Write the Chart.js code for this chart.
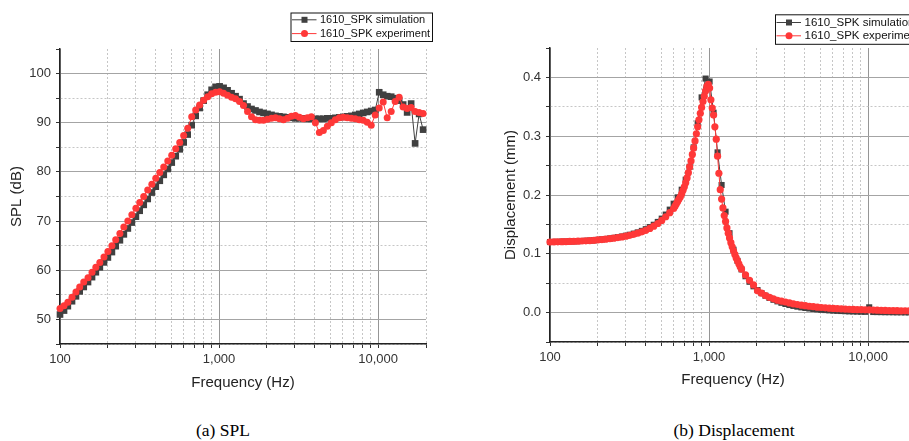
<!DOCTYPE html>
<html>
<head>
<meta charset="utf-8">
<title>1610_SPK SPL and displacement</title>
<script src="https://cdn.jsdelivr.net/npm/chart.js"></script>
<style>
  html, body { margin: 0; padding: 0; background: #fff; }
  body { width: 909px; height: 441px; position: relative; overflow: hidden; }
  #splChart { position: absolute; left: 0; top: 0; }
  #dispChart { position: absolute; left: 460px; top: 0; }
  .caption {
    position: absolute; top: 420px; transform: translateX(-50%); white-space: nowrap;
    font-family: 'Liberation Serif', 'Times New Roman', serif; font-size: 17.5px; color: #000;
  }
</style>
</head>
<body>
<canvas id="splChart" width="450" height="400"></canvas>
<canvas id="dispChart" width="470" height="400"></canvas>
<div class="caption" style="left:223px">(a) SPL</div>
<div class="caption" style="left:734px">(b) Displacement</div>

<script>
// frequency points (Hz), 1/12 octave steps
const freq = [100, 106, 112, 119, 126, 133, 141, 150, 159, 168, 178, 189,
  200, 212, 224, 238, 252, 267, 283, 300, 317, 336, 356, 378,
  400, 424, 449, 476, 504, 534, 566, 599, 635, 673, 713, 755,
  800, 848, 898, 951, 1008, 1068, 1131, 1199, 1270, 1345, 1425, 1510,
  1600, 1695, 1796, 1903, 2016, 2136, 2263, 2397, 2540, 2691, 2851, 3020,
  3200, 3390, 3592, 3805, 4032, 4271, 4525, 4795, 5080, 5382, 5702, 6041,
  6400, 6781, 7184, 7611, 8063, 8543, 9051, 9589, 10159, 10763, 11404, 12082,
  12800, 13561, 14368, 15222, 16127, 17086, 18102, 19179];

// SPL (dB)
const splSim = [51.0, 51.8, 52.7, 53.7, 54.7, 55.7, 56.6, 57.6, 58.6, 59.6, 60.6, 61.6,
  62.6, 63.7, 64.9, 66.1, 67.3, 68.5, 69.7, 70.9, 72.1, 73.3, 74.5, 75.8,
  77.0, 78.2, 79.4, 80.6, 81.9, 83.2, 84.6, 86.0, 87.6, 89.5, 91.4, 93.0,
  94.5, 95.7, 96.7, 97.3, 97.4, 97.1, 96.6, 96.0, 95.4, 94.8, 93.9, 93.3,
  92.8, 92.5, 92.2, 92.0, 91.8, 91.6, 91.4, 91.3, 91.2, 91.1, 91.0, 90.9,
  90.9, 90.9, 90.8, 90.8, 90.8, 90.8, 90.8, 90.9, 90.9, 91.0, 91.1, 91.2,
  91.3, 91.4, 91.6, 91.8, 92.0, 92.2, 92.4, 92.6, 96.2, 95.7, 95.4, 95.3,
  95.0, 94.5, 93.7, 92.1, 93.9, 85.8, 91.8, 88.6];

const splExp = [52.2, 52.8, 53.5, 54.5, 55.6, 56.6, 57.6, 58.5, 59.6, 60.6, 61.6, 62.7,
  63.8, 65.0, 66.2, 67.5, 68.8, 70.0, 71.3, 72.6, 73.8, 75.0, 76.3, 77.5,
  78.7, 79.9, 81.0, 82.2, 83.4, 84.7, 86.0, 87.4, 88.9, 91.2, 92.6, 93.6,
  94.6, 95.3, 95.9, 96.2, 96.3, 96.0, 95.6, 95.2, 94.9, 94.3, 93.5, 92.3,
  91.2, 90.6, 90.5, 90.5, 90.7, 90.9, 91.0, 90.8, 90.6, 90.9, 91.3, 91.5,
  91.1, 90.8, 91.0, 91.2, 90.0, 88.0, 88.4, 89.3, 90.0, 90.6, 91.0, 91.1,
  91.0, 90.9, 90.8, 90.6, 90.5, 90.1, 89.5, 91.6, 93.0, 94.2, 91.0, 92.3,
  94.3, 95.2, 93.2, 92.9, 93.1, 92.3, 92.1, 91.9];

// displacement (mm), simulation on the same frequencies
const dispSim = [0.1200, 0.1202, 0.1204, 0.1206, 0.1208, 0.1210, 0.1212, 0.1215, 0.1218, 0.1221, 0.1225, 0.1229,
  0.1238, 0.1245, 0.1252, 0.1261, 0.1271, 0.1282, 0.1294, 0.1308, 0.1324, 0.1343, 0.1364, 0.1390,
  0.1419, 0.1454, 0.1494, 0.1542, 0.1598, 0.1667, 0.1751, 0.1852, 0.196, 0.209, 0.226, 0.248,
  0.281, 0.322, 0.366, 0.398, 0.393, 0.340, 0.2725, 0.217, 0.1716, 0.135, 0.107, 0.088,
  0.0735, 0.0618, 0.0524, 0.0447, 0.0384, 0.0331, 0.0287, 0.0250, 0.0218, 0.0191, 0.0167, 0.0147,
  0.0129, 0.0114, 0.0101, 0.0089, 0.0079, 0.0070, 0.0062, 0.0055, 0.0048, 0.0043, 0.0038, 0.0034,
  0.0030, 0.0027, 0.0024, 0.0021, 0.0019, 0.0017, 0.0015, 0.0013, 0.0090, 0.0010, 0.0009, 0.0008,
  0.0007, 0.0007, 0.0006, 0.0005, 0.0005, 0.0004, 0.0004, 0.0003];

// experiment is measured more densely around the resonance
const freqDispExp = [100, 106, 112, 119, 126, 133, 141, 150, 159, 168, 178, 189,
  200, 212, 224, 238, 252, 267, 283, 300, 317, 336, 356, 378,
  400, 424, 449, 476, 504, 534, 566, 599,
  611, 623, 635, 647, 660, 673, 686, 699, 713, 727, 741, 755, 770, 785, 800, 816, 832, 848,
  864, 881, 898, 916, 933, 951, 970, 989, 1008, 1027, 1047, 1068, 1088, 1110, 1131, 1153,
  1176, 1199, 1222, 1246, 1270, 1295, 1320, 1345, 1372, 1398, 1425, 1453, 1481, 1510, 1539, 1569, 1600,
  1695, 1796, 1903, 2016, 2136, 2263, 2397, 2540, 2691, 2851, 3020,
  3200, 3390, 3592, 3805, 4032, 4271, 4525, 4795, 5080, 5382, 5702, 6041,
  6400, 6781, 7184, 7611, 8063, 8543, 9051, 9589, 10159, 10763, 11404, 12082,
  12800, 13561, 14368, 15222, 16127, 17086, 18102, 19179];

const dispExp = [0.1200, 0.1202, 0.1204, 0.1206, 0.1208, 0.1210, 0.1212, 0.1215, 0.1218, 0.1221, 0.1225, 0.1230,
  0.1236, 0.1242, 0.1249, 0.1257, 0.1266, 0.1276, 0.1287, 0.1300, 0.1315, 0.1332, 0.1351, 0.1373,
  0.1400, 0.1432, 0.1470, 0.1515, 0.1568, 0.1630, 0.1700, 0.1770,
  0.181, 0.185, 0.189, 0.193, 0.197, 0.202, 0.208, 0.214, 0.221, 0.229, 0.238, 0.248, 0.258, 0.269, 0.280, 0.292, 0.304, 0.316,
  0.328, 0.339, 0.349, 0.359, 0.368, 0.377, 0.385, 0.388, 0.382, 0.362, 0.348, 0.336, 0.316, 0.295, 0.266, 0.237,
  0.209, 0.193, 0.178, 0.165, 0.155, 0.144, 0.135, 0.127, 0.119, 0.112, 0.105, 0.099, 0.093, 0.088, 0.083, 0.078, 0.074,
  0.064, 0.055, 0.047, 0.037, 0.033, 0.029, 0.026, 0.0235, 0.021, 0.0195, 0.018,
  0.0165, 0.0150, 0.0138, 0.0127, 0.0117, 0.0108, 0.0100, 0.0093, 0.0087, 0.0081, 0.0076, 0.0071,
  0.0067, 0.0063, 0.0060, 0.0057, 0.0054, 0.0051, 0.0049, 0.0047, 0.0045, 0.0043, 0.0041, 0.0039,
  0.0037, 0.0035, 0.0034, 0.0032, 0.0031, 0.0030, 0.0029, 0.0028];

// axes: grid positions and labelled ticks
const freqGrid = [100, 200, 300, 400, 500, 600, 700, 800, 900,
  1000, 2000, 3000, 4000, 5000, 6000, 7000, 8000, 9000, 10000, 20000];
const freqTicks = [100, 1000, 10000];
const freqTickLabels = ['100', '1,000', '10,000'];

const splGrid = [45, 50, 55, 60, 65, 70, 75, 80, 85, 90, 95, 100, 105];
const splTicks = [50, 60, 70, 80, 90, 100];
const splTickLabels = ['50', '60', '70', '80', '90', '100'];

const dispGrid = [-0.05, 0, 0.05, 0.1, 0.15, 0.2, 0.25, 0.3, 0.35, 0.4, 0.45];
const dispTicks = [0, 0.1, 0.2, 0.3, 0.4];
const dispTickLabels = ['0.0', '0.1', '0.2', '0.3', '0.4'];

const seriesNames = ['1610_SPK simulation', '1610_SPK experiment'];

const simColor = '#404040';
const expColor = '#ff3838';

Chart.defaults.font.family = "'Liberation Sans', Arial, sans-serif";

function pairs(xs, ys) {
  return xs.map((x, i) => ({ x: x, y: ys[i] }));
}

function near(a, b) {
  return Math.abs(a - b) <= 1e-6 * Math.max(1, Math.abs(b));
}

function labelFor(values, labels, v) {
  const i = values.findIndex(t => near(v, t));
  return i >= 0 ? labels[i] : '';
}

// legend box drawn above the plot, top right
const legendBox = {
  id: 'legendBox',
  afterDraw(chart, args, o) {
    const ctx = chart.ctx;
    ctx.save();
    ctx.fillStyle = '#fff';
    ctx.fillRect(o.x, o.y, o.w, o.h);
    ctx.strokeStyle = '#111';
    ctx.lineWidth = 1;
    ctx.strokeRect(o.x + 0.5, o.y + 0.5, o.w, o.h);
    ctx.font = o.font;
    ctx.textBaseline = 'middle';
    chart.data.datasets.forEach((ds, i) => {
      const y = o.rows[i];
      ctx.strokeStyle = ds.borderColor;
      ctx.lineWidth = 1;
      ctx.beginPath();
      ctx.moveTo(o.x + 1.5, y);
      ctx.lineTo(o.x + 26, y);
      ctx.stroke();
      ctx.fillStyle = ds.borderColor;
      const mx = o.x + 14;
      if (ds.pointStyle === 'rect') {
        ctx.fillRect(mx - 3, y - 3, 6, 6);
      } else {
        ctx.beginPath();
        ctx.arc(mx, y, 3.5, 0, Math.PI * 2);
        ctx.fill();
      }
      ctx.fillStyle = '#111';
      ctx.fillText(ds.label, o.x + 29.5, y + 0.5);
    });
    ctx.restore();
  }
};

function freqAxis(height, titlePad) {
  return {
    type: 'logarithmic',
    min: 100,
    max: 20000,
    afterBuildTicks: s => { s.ticks = freqGrid.map(v => ({ value: v })); },
    afterFit: s => { s.height = height; },
    ticks: {
      autoSkip: false, maxRotation: 0, minRotation: 0, padding: 4,
      color: '#333', font: { size: 13 },
      callback: v => labelFor(freqTicks, freqTickLabels, v)
    },
    grid: {
      color: c => freqTicks.some(t => near(c.tick.value, t)) ? '#969696' : '#c6c6c6',
      lineWidth: 1, tickLength: 4, tickColor: '#333'
    },
    border: {
      color: '#222', width: 1.5,
      dash: c => (c.tick && !freqTicks.some(t => near(c.tick.value, t))) ? [2, 2] : []
    },
    title: {
      display: true, text: 'Frequency (Hz)', color: '#222',
      font: { size: 15 }, padding: { top: 0, bottom: titlePad }
    }
  };
}

function valueAxis(grid, ticks, labels, width, title, titlePad) {
  const lo = grid[0], hi = grid[grid.length - 1];
  return {
    type: 'linear',
    min: lo,
    max: hi,
    afterBuildTicks: s => { s.ticks = grid.map(v => ({ value: v })); },
    afterFit: s => { s.width = width; },
    ticks: {
      autoSkip: false, padding: 5, color: '#333', font: { size: 13 },
      callback: v => labelFor(ticks, labels, v)
    },
    grid: {
      color: c => {
        const v = c.tick.value;
        if (near(v, hi)) return 'rgba(0,0,0,0)';
        return ticks.some(t => near(v, t)) ? '#a4a4a4' : '#c6c6c6';
      },
      lineWidth: 1, tickLength: 4, tickColor: '#333'
    },
    border: {
      color: '#222', width: 1.5,
      dash: c => (c.tick && !ticks.some(t => near(c.tick.value, t))) ? [2, 2] : []
    },
    title: {
      display: true, text: title, color: '#222',
      font: { size: 15 }, padding: { top: titlePad, bottom: 0 }
    }
  };
}

function series(xs, simY, xsExp, expY, simR, expR) {
  return [{
    label: seriesNames[0],
    data: pairs(xs, simY),
    borderColor: simColor, backgroundColor: simColor,
    pointBackgroundColor: simColor, pointBorderWidth: 0,
    pointStyle: 'rect', pointRadius: simR,
    borderWidth: 1, tension: 0, clip: false, order: 2
  }, {
    label: seriesNames[1],
    data: pairs(xsExp, expY),
    borderColor: expColor, backgroundColor: expColor,
    pointBackgroundColor: expColor, pointBorderWidth: 0,
    pointStyle: 'circle', pointRadius: expR,
    borderWidth: 1, tension: 0, clip: false, order: 1
  }];
}

// (a) SPL
new Chart(document.getElementById('splChart'), {
  type: 'line',
  data: { datasets: series(freq, splSim, freq, splExp, 4.7, 3.5) },
  options: {
    responsive: false, animation: false, events: [],
    layout: { padding: { left: 0, right: 24, top: 49, bottom: 0 } },
    scales: {
      x: freqAxis(56, 8),
      y: valueAxis(splGrid, splTicks, splTickLabels, 60, 'SPL (dB)', 8)
    },
    plugins: {
      legend: { display: false },
      tooltip: { enabled: false },
      legendBox: { x: 290.5, y: 12.5, w: 141.5, h: 28.5, rows: [19.8, 33.6], font: "11px 'Liberation Sans', Arial" }
    }
  },
  plugins: [legendBox]
});

// (b) Displacement
new Chart(document.getElementById('dispChart'), {
  type: 'line',
  data: { datasets: series(freq, dispSim, freqDispExp, dispExp, 4.3, 3.6) },
  options: {
    responsive: false, animation: false, events: [],
    layout: { padding: { left: 0, right: 14, top: 48, bottom: 0 } },
    scales: {
      x: freqAxis(58, 11),
      y: valueAxis(dispGrid, dispTicks, dispTickLabels, 90, 'Displacement (mm)', 42)
    },
    plugins: {
      legend: { display: false },
      tooltip: { enabled: false },
      legendBox: { x: 315, y: 14.3, w: 150, h: 29.5, rows: [22.5, 35.8], font: "11.5px 'Liberation Sans', Arial" }
    }
  },
  plugins: [legendBox]
});
</script>
</body>
</html>
